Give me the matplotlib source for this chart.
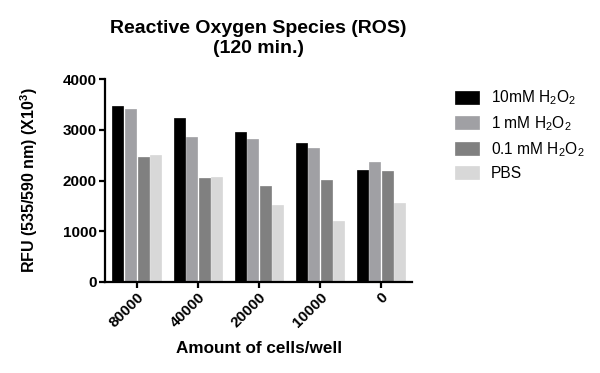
import matplotlib
matplotlib.use("Agg")
import matplotlib.pyplot as plt
import numpy as np

plt.rcParams['font.family'] = ['Liberation Sans', 'DejaVu Sans']
plt.rcParams['mathtext.fontset'] = 'custom'
plt.rcParams['mathtext.rm'] = 'Liberation Sans'
plt.rcParams['mathtext.bf'] = 'Liberation Sans:bold'
plt.rcParams['mathtext.default'] = 'regular'

categories = ["80000", "40000", "20000", "10000", "0"]
series_names = ["10mM H$_2$O$_2$", "1 mM H$_2$O$_2$", "0.1 mM H$_2$O$_2$", "PBS"]
v_10mM = [3474, 3224, 2947, 2743, 2204]
v_1mM = [3408, 2855, 2809, 2638, 2368]
v_01mM = [2461, 2059, 1895, 2020, 2184]
v_pbs = [2513, 2072, 1526, 1211, 1559]
series_values = [v_10mM, v_1mM, v_01mM, v_pbs]
colors = ["#000000", "#a0a0a4", "#808080", "#d8d8d8"]

fig = plt.figure(figsize=(6, 3.73), dpi=100)
ax = fig.add_axes([0.175, 0.244, 0.512, 0.544])

x = np.arange(len(categories))
step = 0.205
width = 0.18
for i, (name, vals, c) in enumerate(zip(series_names, series_values, colors)):
    ax.bar(x + (i - 1.5) * step, vals, width=width, color=c, label=name,
           edgecolor=c, linewidth=0.5)

ax.set_xlim(-0.52, 4.51)
ax.set_ylim(0, 4000)
ax.set_yticks([0, 1000, 2000, 3000, 4000])
ax.set_xticks(x)
ax.set_xticklabels(categories, rotation=45, ha='right', rotation_mode='anchor',
                   fontweight='bold', fontsize=11)
for lbl in ax.get_yticklabels():
    lbl.set_fontweight('bold')
    lbl.set_fontsize(11)
for s in ['top', 'right']:
    ax.spines[s].set_visible(False)
for s in ['left', 'bottom']:
    ax.spines[s].set_linewidth(1.6)
ax.tick_params(axis='both', width=1.6, length=4, pad=2)

ax.set_ylabel("RFU (535/590 nm) (X10$^3$)", fontweight='bold', fontsize=11.5, labelpad=16)
ax.set_xlabel("Amount of cells/well", fontweight='bold', fontsize=12.3, labelpad=8)
ax.set_title("Reactive Oxygen Species (ROS)\n(120 min.)", fontweight='bold',
             fontsize=14, pad=19, x=0.5, linespacing=1.2)

leg = fig.legend(loc='upper left', bbox_to_anchor=(0.735, 0.8), frameon=False,
                 fontsize=11.2, handlelength=1.55, handleheight=0.9,
                 labelspacing=0.45, handletextpad=0.75)

fig.savefig("out.png", dpi=100)
